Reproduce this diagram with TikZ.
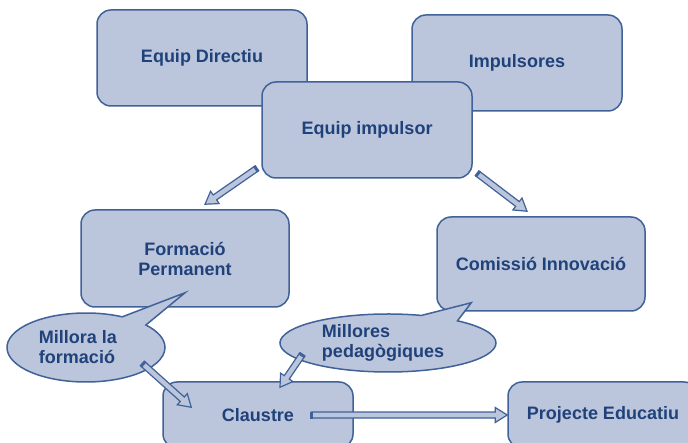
\documentclass[tikz,border=0pt]{standalone}
\usepackage{fontspec}
\setmainfont{Liberation Sans}
\usepackage{tikz}
\usetikzlibrary{shapes,shapes.callouts,calc}

\definecolor{boxfill}{RGB}{187,197,220}
\definecolor{boxline}{RGB}{64,98,152}
\definecolor{boxtext}{RGB}{32,66,122}

\begin{document}
\begin{tikzpicture}[x=1pt,y=-1pt]
    \newcommand{\boxheight}[0]{96pt}
    \newcommand{\boxwidth}[0]{210pt}
    \newcommand{\fatarrow}[2]{%
      \draw[fatarrow] let \p1=(#1), \p2=(#2),
          \n1={atan2(\y2-\y1,\x2-\x1)}, \n2={veclen(\x2-\x1,\y2-\y1)} in
        ($(\p1)+({\n1+90}:3pt)$)
        -- ($(\p1)+(\n1:{\n2-12pt})+({\n1+90}:3pt)$)
        -- ($(\p1)+(\n1:{\n2-12pt})+({\n1+90}:7.5pt)$)
        -- (\p2)
        -- ($(\p1)+(\n1:{\n2-12pt})+({\n1-90}:7.5pt)$)
        -- ($(\p1)+(\n1:{\n2-12pt})+({\n1-90}:3pt)$)
        -- ($(\p1)+({\n1-90}:3pt)$) -- cycle;
      \draw[arrowcap] let \p1=(#1), \p2=(#2),
          \n1={atan2(\y2-\y1,\x2-\x1)} in
        ($(\p1)+({\n1+90}:3.5pt)$) -- ($(\p1)+({\n1-90}:3.5pt)$);
    }

    \tikzstyle{block}=[
      rectangle,
      rounded corners=14pt,
      draw=boxline,
      fill=boxfill,
      line width=1.5pt,
      text=boxtext,
      font=\bfseries\fontsize{18}{20}\selectfont,
      align=center,
      minimum width=\boxwidth,
      minimum height=\boxheight,
    ]
    \tikzstyle{bubble}=[
      ellipse callout,
      draw=boxline,
      fill=boxfill,
      line width=1.5pt,
      text=boxtext,
      font=\bfseries\fontsize{18}{20}\selectfont,
      align=left,
      inner sep=0pt,
      callout pointer arc=22,
    ]
    \tikzstyle{fatarrow}=[draw=boxline,fill=boxfill,line width=1.2pt,line join=miter]
    \tikzstyle{arrowcap}=[draw=boxline,line width=3pt]

    \path[use as bounding box,clip] (0,0) rectangle (688,443);

    \node[block] (equipdirectiu) at (202,58) {Equip Directiu};
    \node[block] (impulsores) at (517,63) {Impulsores};
    \node[block] (equipimpulsor) at (367,130) {Equip impulsor};
    \node[block,minimum width=208pt,minimum height=97pt] (formacio) at (185,258.5) {Formació\\Permanent};
    \node[block,minimum width=208pt,minimum height=94pt] (comissio) at (541,264) {Comissió Innovació};
    \node[block,minimum width=190pt,minimum height=66pt] (claustre) at (258,415) {Claustre};
    \node[block,minimum width=190pt,minimum height=66pt] (projecte) at (603,415) {Projecte Educatiu};

    % text blocks sit a little left of the ellipse centres
    \node[bubble,minimum width=158pt,minimum height=69pt,
          callout absolute pointer={([yshift=15pt]formacio.south)}]
          (milloraformacio) at (86,347.5) {Millora la\hspace*{16pt}\\formació};
    \node[bubble,minimum width=216pt,minimum height=58pt,
          callout absolute pointer={([xshift=35pt,yshift=9pt]comissio.south west)}]
          (milloresped) at (388,343) {Millores\\pedagògiques\hspace*{10pt}};

    \fatarrow{[xshift=-5pt,yshift=10pt]equipimpulsor.south west}{[xshift=20pt,yshift=5pt]formacio.north}
    \fatarrow{[xshift=5pt,yshift=5pt]equipimpulsor.south east}{[xshift=-14pt,yshift=5pt]comissio.north}
    \fatarrow{[xshift=57pt,yshift=-16.5pt]milloraformacio.center}{[xshift=29pt,yshift=-26pt]claustre.north west}
    \fatarrow{[xshift=-86pt,yshift=-12pt]milloresped.center}{[xshift=22pt,yshift=-6pt]claustre.north}
    \fatarrow{[xshift=-42pt]claustre.east}{projecte.west}
\end{tikzpicture}
\end{document}
